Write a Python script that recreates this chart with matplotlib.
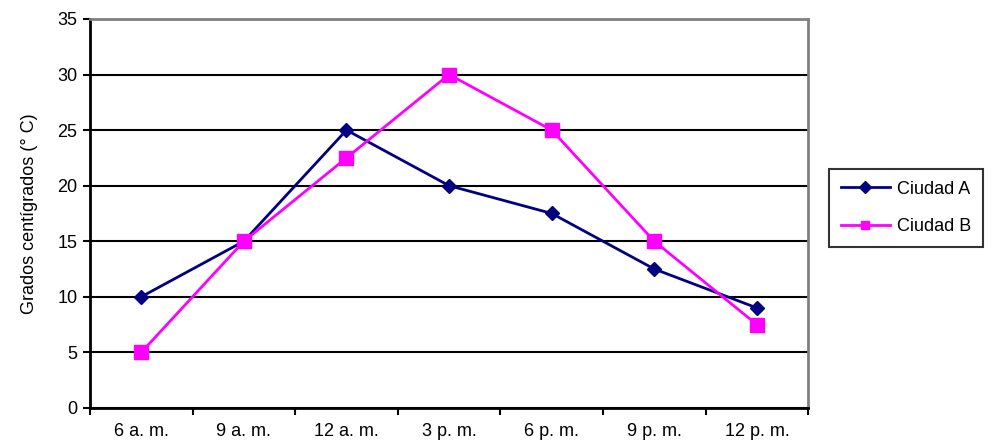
import matplotlib.pyplot as plt

plt.rcParams['font.family'] = ['Liberation Sans', 'DejaVu Sans']

horas = ['6 a. m.', '9 a. m.', '12 a. m.', '3 p. m.', '6 p. m.', '9 p. m.', '12 p. m.']
ciudad_a = [10, 15, 25, 20, 17.5, 12.5, 9]
ciudad_b = [5, 15, 22.5, 30, 25, 15, 7.5]

fig = plt.figure(figsize=(9.92, 4.41), dpi=100)
ax = fig.add_axes([0.0907, 0.075, 0.724, 0.882])

x = list(range(len(horas)))
ax.plot(x, ciudad_a, color='#000080', lw=2, marker='D', ms=7, label='Ciudad A')
ax.plot(x, ciudad_b, color='#ff00ff', lw=2, marker='s', ms=10, label='Ciudad B')

ax.set_xlim(-0.5, len(horas) - 0.5)
ax.set_ylim(0, 35)
ax.set_yticks(range(0, 36, 5))
ax.set_xticks(x)
ax.set_xticklabels(horas)
ax.set_xticks([i - 0.5 for i in range(len(horas) + 1)], minor=True)
ax.tick_params(axis='x', which='major', length=0, labelsize=13, pad=11)
ax.tick_params(axis='x', which='minor', length=5, width=1.5, direction='out')
ax.tick_params(axis='y', length=5, width=1.5, labelsize=13, pad=4)
ax.yaxis.grid(True, color='black', lw=1.5)
ax.set_axisbelow(True)
ax.set_ylabel('Grados centígrados (° C)', fontsize=13, labelpad=14)

ax.spines['left'].set_linewidth(2)
ax.spines['bottom'].set_linewidth(2)
for s in ['top', 'right']:
    ax.spines[s].set_color('#808080')
    ax.spines[s].set_linewidth(2)

leg = fig.legend(loc='upper left', bbox_to_anchor=(0.836, 0.617), fontsize=13,
                 frameon=True, fancybox=False, edgecolor='black', handlelength=2.7,
                 handletextpad=0.4, borderpad=0.65, labelspacing=1.15, borderaxespad=0)
leg.get_frame().set_linewidth(1.5)
for h in leg.get_lines():
    h.set_markersize(6)

fig.savefig('out.png', dpi=100)
